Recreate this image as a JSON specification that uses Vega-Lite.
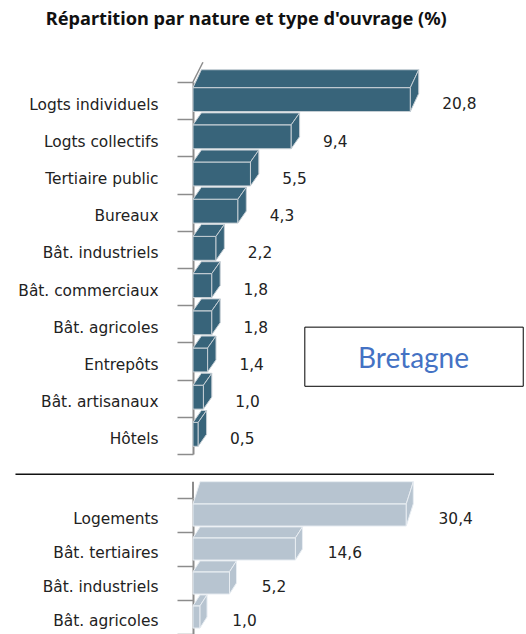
{"$schema":"https://vega.github.io/schema/vega-lite/v6.json","background":"white","padding":{"left":14,"top":10,"right":0,"bottom":0},"bounds":"flush","spacing":44,"title":{"text":"Répartition par nature et type d'ouvrage (%)","font":"Noto Sans","fontSize":18.2,"fontWeight":"bold","color":"#111111","anchor":"start","dx":31,"offset":32},"config":{"view":{"stroke":null},"axisY":{"labelFont":"DejaVu Sans","labelFontSize":15.4,"labelColor":"#222222","domainColor":"#8c8c8c","domainWidth":2,"tickColor":"#8c8c8c","tickWidth":1.5,"tickSize":16,"tickBand":"extent","labelPadding":19,"labelOffset":3.5,"title":null,"grid":false}},"vconcat":[{"width":334,"height":372,"data":{"values":[{"nature":"Logts individuels","part":20.8},{"nature":"Logts collectifs","part":9.4},{"nature":"Tertiaire public","part":5.5},{"nature":"Bureaux","part":4.3},{"nature":"Bât. industriels","part":2.2},{"nature":"Bât. commerciaux","part":1.8},{"nature":"Bât. agricoles","part":1.8},{"nature":"Entrepôts","part":1.4},{"nature":"Bât. artisanaux","part":1.0},{"nature":"Hôtels","part":0.5}]},"transform":[{"window":[{"op":"row_number","as":"rang"}]},{"calculate":"datum.rang-1+(datum.rang==1?-0.33:-0.17)","as":"yBack"},{"calculate":"datum.rang-1+0.15","as":"yFront"},{"calculate":"datum.rang-1+0.79","as":"yBas"},{"calculate":"datum.part","as":"xFront"},{"calculate":"datum.part+0.8","as":"xBack"},{"calculate":"replace(format(datum.part,'.1f'),'.',',')","as":"etiquette"},{"calculate":"datum.rang-0.4","as":"yEtiquette"},{"calculate":"datum.part+(datum.part>10?0.48:0)","as":"xEtiquette"}],"resolve":{"scale":{"y":"independent"}},"layer":[{"mark":{"type":"bar","height":{"band":0.64},"yOffset":-1,"fill":"#38647a","stroke":"#c5ced4","strokeWidth":1},"encoding":{"y":{"field":"nature","type":"nominal","sort":null,"scale":{"paddingInner":0,"paddingOuter":0}},"x":{"field":"part","type":"quantitative","axis":null,"scale":{"domain":[0,31.96],"nice":false}}}},{"transform":[{"fold":["yBack","yFront"],"as":["bord","yp"]},{"calculate":"datum.bord=='yBack'?0.8:0","as":"xa"},{"calculate":"datum.part+datum.xa","as":"xb"}],"mark":{"type":"area","orient":"horizontal","fill":"#38647a","stroke":"#c5ced4","strokeWidth":1},"encoding":{"y":{"field":"yp","type":"quantitative","axis":null,"scale":{"domain":[0,10],"reverse":true,"nice":false,"zero":false}},"x":{"field":"xa","type":"quantitative"},"x2":{"field":"xb"},"detail":{"field":"rang"}}},{"transform":[{"fold":["xFront","xBack"],"as":["bord","xp"]},{"calculate":"datum.bord=='xBack'?datum.yBack:datum.yFront","as":"ya"},{"calculate":"datum.ya+datum.yBas-datum.yFront","as":"yb"}],"mark":{"type":"area","orient":"vertical","fill":"#38647a","stroke":"#c5ced4","strokeWidth":1},"encoding":{"x":{"field":"xp","type":"quantitative"},"y":{"field":"ya","type":"quantitative","axis":null,"scale":{"domain":[0,10],"reverse":true,"nice":false,"zero":false}},"y2":{"field":"yb"},"detail":{"field":"rang"}}},{"mark":{"type":"text","dx":44,"align":"center","baseline":"middle","font":"DejaVu Sans","fontSize":15.4,"color":"#222222"},"encoding":{"x":{"field":"xEtiquette","type":"quantitative"},"y":{"field":"yEtiquette","type":"quantitative","axis":null,"scale":{"domain":[0,10],"reverse":true,"nice":false,"zero":false}},"text":{"field":"etiquette"}}},{"data":{"values":[{"zone":"Bretagne"}]},"transform":[],"mark":{"type":"rule","color":"#8c8c8c","strokeWidth":1.5},"encoding":{"x":{"datum":0},"x2":{"datum":0.95},"y":{"datum":0,"scale":{"domain":[0,10],"reverse":true,"nice":false,"zero":false},"axis":null},"y2":{"datum":-0.53}}},{"data":{"values":[{"zone":"Bretagne"}]},"transform":[],"mark":{"type":"rect","fill":"white","stroke":"black","strokeWidth":1},"encoding":{"x":{"datum":10.7},"x2":{"datum":31.6},"y":{"datum":6.59,"scale":{"domain":[0,10],"reverse":true,"nice":false,"zero":false},"axis":null},"y2":{"datum":8.18}}},{"data":{"values":[{"zone":"Bretagne"}]},"transform":[],"mark":{"type":"text","align":"center","baseline":"middle","font":"Lato","fontSize":28,"color":"#4472c4"},"encoding":{"x":{"datum":21.1},"y":{"datum":7.46,"scale":{"domain":[0,10],"reverse":true,"nice":false,"zero":false},"axis":null},"text":{"field":"zone"}}}]},{"width":334,"height":136,"data":{"values":[{"nature":"Logements","part":30.4},{"nature":"Bât. tertiaires","part":14.6},{"nature":"Bât. industriels","part":5.2},{"nature":"Bât. agricoles","part":1.0}]},"transform":[{"window":[{"op":"row_number","as":"rang"}]},{"calculate":"datum.rang-1+(datum.rang==1?-0.48:-0.15)","as":"yBack"},{"calculate":"datum.rang-1+0.17","as":"yFront"},{"calculate":"datum.rang-1+0.82","as":"yBas"},{"calculate":"datum.part","as":"xFront"},{"calculate":"datum.part+1","as":"xBack"},{"calculate":"replace(format(datum.part,'.1f'),'.',',')","as":"etiquette"},{"calculate":"datum.rang-0.39","as":"yEtiquette"},{"calculate":"datum.part+(datum.part>10?0.7:0)","as":"xEtiquette"}],"resolve":{"scale":{"y":"independent"}},"layer":[{"mark":{"type":"bar","height":{"band":0.65},"fill":"#b7c4d0","stroke":"#e8edf2","strokeWidth":1},"encoding":{"y":{"field":"nature","type":"nominal","sort":null,"scale":{"paddingInner":0,"paddingOuter":0}},"x":{"field":"part","type":"quantitative","axis":null,"scale":{"domain":[0,47.6],"nice":false}}}},{"transform":[{"fold":["yBack","yFront"],"as":["bord","yp"]},{"calculate":"datum.bord=='yBack'?1:0","as":"xa"},{"calculate":"datum.part+datum.xa","as":"xb"}],"mark":{"type":"area","orient":"horizontal","fill":"#b7c4d0","stroke":"#e8edf2","strokeWidth":1},"encoding":{"y":{"field":"yp","type":"quantitative","axis":null,"scale":{"domain":[0,4],"reverse":true,"nice":false,"zero":false}},"x":{"field":"xa","type":"quantitative"},"x2":{"field":"xb"},"detail":{"field":"rang"}}},{"transform":[{"fold":["xFront","xBack"],"as":["bord","xp"]},{"calculate":"datum.bord=='xBack'?datum.yBack:datum.yFront","as":"ya"},{"calculate":"datum.ya+datum.yBas-datum.yFront","as":"yb"}],"mark":{"type":"area","orient":"vertical","fill":"#b7c4d0","stroke":"#e8edf2","strokeWidth":1},"encoding":{"x":{"field":"xp","type":"quantitative"},"y":{"field":"ya","type":"quantitative","axis":null,"scale":{"domain":[0,4],"reverse":true,"nice":false,"zero":false}},"y2":{"field":"yb"},"detail":{"field":"rang"}}},{"mark":{"type":"text","dx":44.5,"align":"center","baseline":"middle","font":"DejaVu Sans","fontSize":15.4,"color":"#222222"},"encoding":{"x":{"field":"xEtiquette","type":"quantitative"},"y":{"field":"yEtiquette","type":"quantitative","axis":null,"scale":{"domain":[0,4],"reverse":true,"nice":false,"zero":false}},"text":{"field":"etiquette"}}},{"data":{"values":[{"zone":"axe"}]},"transform":[],"mark":{"type":"rule","color":"#8c8c8c","strokeWidth":2},"encoding":{"x":{"datum":0},"y":{"datum":-0.48,"scale":{"domain":[0,4],"reverse":true,"nice":false,"zero":false},"axis":null},"y2":{"datum":0}}},{"data":{"values":[{"zone":"separateur"}]},"transform":[],"mark":{"type":"rule","color":"#111111","strokeWidth":1.5},"encoding":{"x":{"datum":-25.3},"x2":{"datum":42.9},"y":{"datum":-0.7,"scale":{"domain":[0,4],"reverse":true,"nice":false,"zero":false},"axis":null}}}]}]}
